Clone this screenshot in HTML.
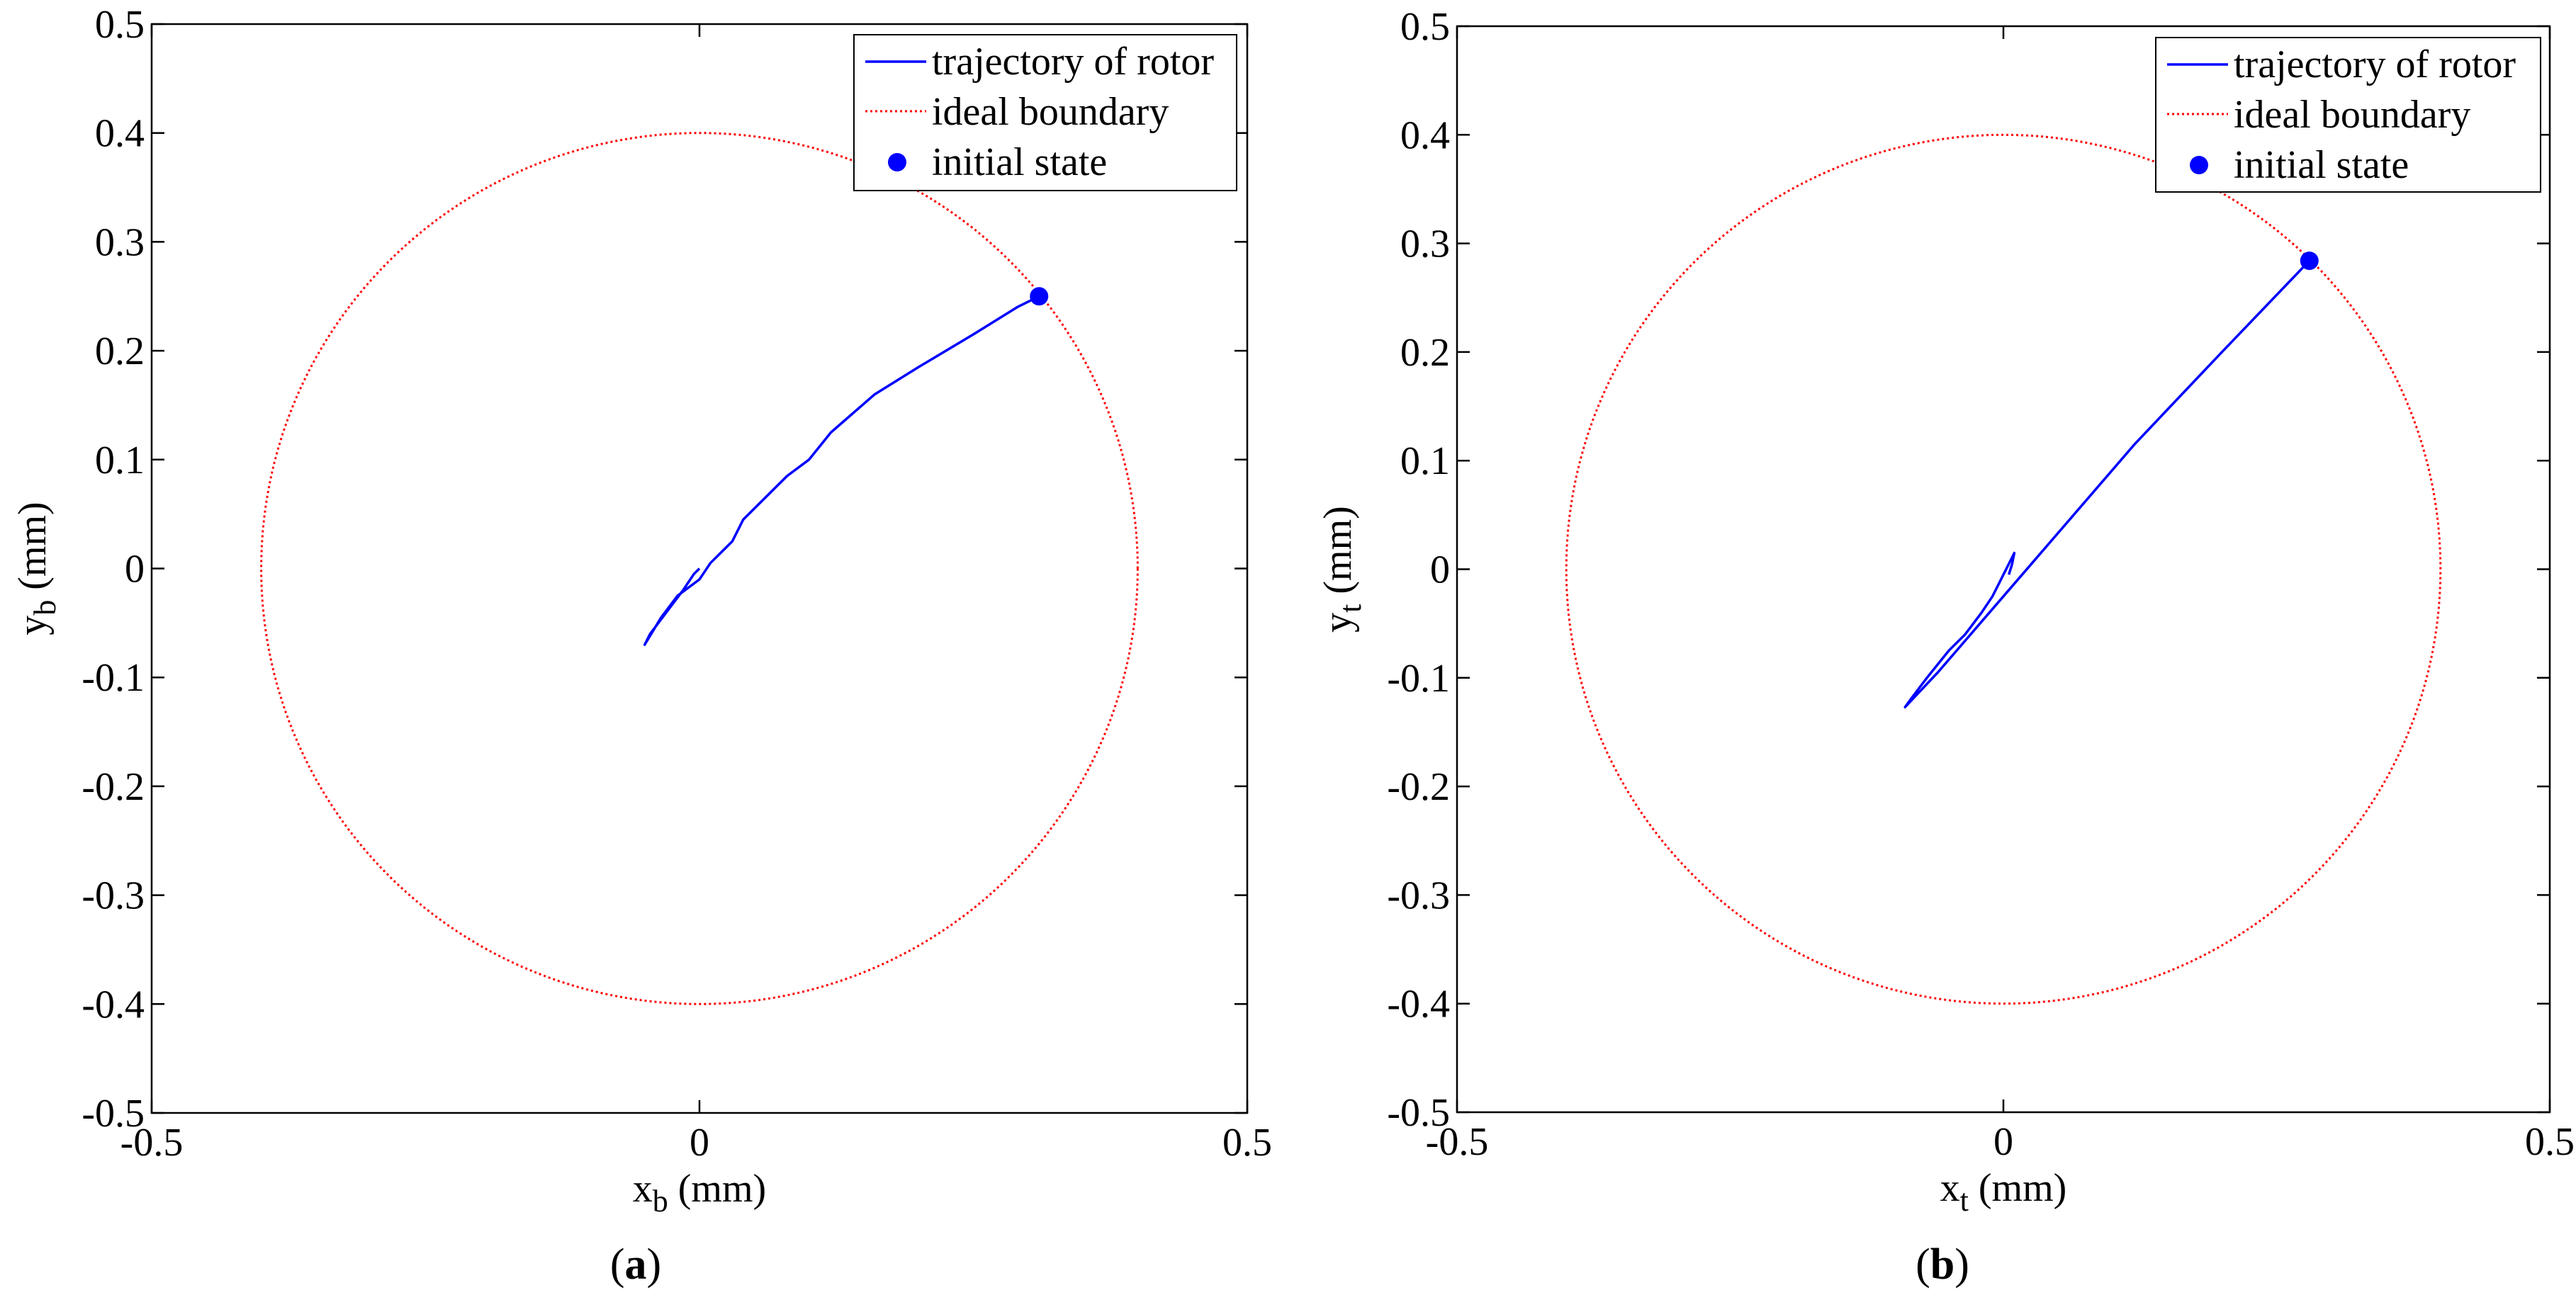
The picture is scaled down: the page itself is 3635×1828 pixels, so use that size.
<!DOCTYPE html>
<html><head><meta charset="utf-8"><style>
html,body{margin:0;padding:0;background:#fff;width:3635px;height:1828px;overflow:hidden}
text{font-family:'Liberation Serif','Times New Roman',Times,serif}
</style></head><body>
<svg id="fig" width="3635" height="1828" viewBox="0 0 3635 1828"></svg>
<script>
const ticks=[-0.5,-0.4,-0.3,-0.2,-0.1,0,0.1,0.2,0.3,0.4,0.5];
const xTicks=[-0.5,0,0.5];
const xTickLabels=["-0.5","0","0.5"];
const boundaryRadius=[0.4];
const trajAx=[0.31,0.29,0.25,0.2,0.16,0.12,0.1,0.08,0.06,0.04,0.03,0.01,0,-0.02,-0.035,-0.05,-0.045,-0.03,-0.015,-0.005,0];
const trajAy=[0.25,0.24,0.215,0.185,0.16,0.125,0.1,0.085,0.065,0.045,0.025,0.005,-0.01,-0.025,-0.045,-0.07,-0.06,-0.04,-0.02,-0.005,0];
const initA=[0.31,0.25];
const trajBx=[0.28,0.2,0.12,0.06,0.03,0,-0.03,-0.06,-0.09,-0.085,-0.07,-0.05,-0.035,-0.02,-0.01,0,0.01,0.008,0.005];
const trajBy=[0.284,0.2,0.115,0.045,0.01,-0.025,-0.06,-0.095,-0.127,-0.12,-0.1,-0.075,-0.06,-0.04,-0.025,-0.005,0.015,0.005,-0.005];
const initB=[0.28,0.284];

const NS="http://www.w3.org/2000/svg";
const svg=document.getElementById('fig');
function mk(tag,attrs,parent){const e=document.createElementNS(NS,tag);for(const k in attrs)e.setAttribute(k,attrs[k]);if(tag==='text')e.style.fontFamily="'Liberation Serif', 'Times New Roman', serif";(parent||svg).appendChild(e);return e;}

function panel(p){
  const g=mk('g',{});
  
  
  const sx=v=>p.L+(v+0.5)*(p.R-p.L);
  const sy=v=>p.B-(v+0.5)*(p.B-p.T);
  const box=mk('rect',{x:p.L,y:p.T,width:p.R-p.L,height:p.B-p.T,fill:'none',stroke:'#000','stroke-width':2.5},g);
  
  
  ticks.forEach(t=>{
    const y=sy(t);
    mk('line',{x1:p.L,x2:p.L+18,y1:y,y2:y,stroke:'#000','stroke-width':2.5},g);
    mk('line',{x1:p.R-18,x2:p.R,y1:y,y2:y,stroke:'#000','stroke-width':2.5},g);
    const tl=mk('text',{x:p.L-10,y:y+19,'font-size':56,'text-anchor':'end'},g);
    tl.textContent=(Math.abs(t)<1e-9?'0':t.toFixed(1));
    
    
  });
  xTicks.forEach((t,i)=>{
    const x=sx(t);
    mk('line',{x1:x,x2:x,y1:p.B,y2:p.B-18,stroke:'#000','stroke-width':2.5},g);
    mk('line',{x1:x,x2:x,y1:p.T,y2:p.T+18,stroke:'#000','stroke-width':2.5},g);
    const tl=mk('text',{x:x,y:p.B+60,'font-size':56,'text-anchor':'middle'},g);
    tl.textContent=xTickLabels[i];
    
    
  });
  const r=boundaryRadius[0];
  const pts=[];for(let i=0;i<=360;i++){const a=i*Math.PI/180;pts.push(sx(r*Math.cos(a))+','+sy(r*Math.sin(a)));}
  const c=mk('polyline',{points:pts.join(' '),fill:'none',stroke:'#f00','stroke-width':3,'stroke-dasharray':'3,4'},g);
  
  
  const tp=p.tx.map((x,i)=>sx(x)+','+sy(p.ty[i])).join(' ');
  const tr=mk('polyline',{points:tp,fill:'none',stroke:'#0000ff','stroke-width':3.5,'stroke-linejoin':'round'},g);
  
  
  const ini=mk('circle',{cx:sx(p.init[0]),cy:sy(p.init[1]),r:13,fill:'#0000ff'},g);
  
  
  const lg=mk('g',{},g);
  
  
  const lx=p.lg[0],ly=p.lg[1],lw=p.lg[2],lh=p.lg[3];
  mk('rect',{x:lx,y:ly,width:lw,height:lh,fill:'#fff',stroke:'#000','stroke-width':2},lg);
  mk('line',{x1:lx+16,x2:lx+102,y1:ly+38,y2:ly+38,stroke:'#0000ff','stroke-width':3.5},lg);
  mk('line',{x1:lx+16,x2:lx+102,y1:ly+108,y2:ly+108,stroke:'#f00','stroke-width':3,'stroke-dasharray':'3,4'},lg);
  mk('circle',{cx:lx+61,cy:ly+180,r:13,fill:'#0000ff'},lg);
  const labels=['trajectory of rotor','ideal boundary','initial state'];
  labels.forEach((s,i)=>{const t=mk('text',{x:lx+110,y:ly+56+i*71,'font-size':56},lg);t.textContent=s;
    
    });
  const xl=mk('text',{x:(p.L+p.R)/2,y:p.B+125,'font-size':56,'text-anchor':'middle'},g);
  xl.innerHTML=p.xv+'<tspan dy="14" font-size="44">'+p.sub+'</tspan><tspan dy="-14"> (mm)</tspan>';
  
  
  const yl=mk('text',{x:0,y:0,'font-size':56,'text-anchor':'middle',transform:'translate('+(p.L-150)+','+((p.T+p.B)/2)+') rotate(-90)'},g);
  yl.innerHTML=p.yv+'<tspan dy="14" font-size="44">'+p.sub+'</tspan><tspan dy="-14"> (mm)</tspan>';
  
  
  const cap=mk('text',{x:p.capx,y:1805,'font-size':62,'text-anchor':'middle'},g);
  cap.innerHTML='(<tspan font-weight="bold">'+p.cap+'</tspan>)';
  
  
}
panel({name:'panel-a',L:214,R:1760,T:34,B:1571,tx:trajAx,ty:trajAy,init:initA,lg:[1205,49,540,220],xv:'x',yv:'y',sub:'b',cap:'a',capx:897});
panel({name:'panel-b',L:2056,R:3598,T:37,B:1570,tx:trajBx,ty:trajBy,init:initB,lg:[3042,53,543,218],xv:'x',yv:'y',sub:'t',cap:'b',capx:2741});
</script>
</body></html>
